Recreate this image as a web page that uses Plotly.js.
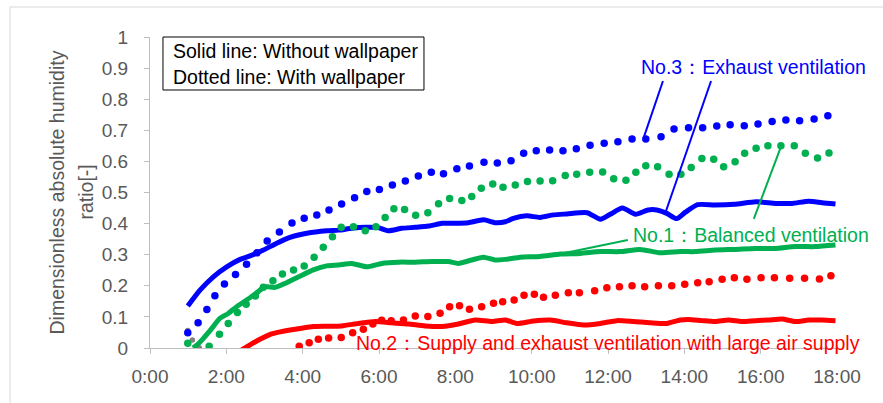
<!DOCTYPE html>
<html>
<head>
<meta charset="utf-8">
<script src="https://cdn.plot.ly/plotly-3.0.1.min.js"></script>
<style>html,body{margin:0;padding:0;background:#fff;}#chart{width:883px;height:403px;}</style>
</head>
<body>
<div id="chart"></div>
<script>
// ---- Data (hours since 0:00, dimensionless ratio) ----
var xTickVals = [0, 2, 4, 6, 8, 10, 12, 14, 16, 18];
var xTickText = ["0:00", "2:00", "4:00", "6:00", "8:00", "10:00", "12:00", "14:00", "16:00", "18:00"];

// No.3 Exhaust ventilation - solid (without wallpaper)
var blueSolidX = [0.99,1.31,1.66,2.01,2.36,2.62,2.97,3.32,3.67,4.11,4.63,4.94,5.29,5.64,5.98,6.25,6.60,6.95,7.30,7.65,7.99,8.34,8.74,9.04,9.31,9.52,9.87,10.22,10.57,10.92,11.45,11.80,12.06,12.38,12.72,13.05,13.28,13.54,13.80,14.02,14.35,14.79,15.31,15.88,16.40,16.82,17.26,17.61,17.96];
var blueSolidY = [0.135,0.186,0.229,0.261,0.285,0.296,0.315,0.337,0.356,0.369,0.377,0.379,0.385,0.388,0.387,0.377,0.385,0.388,0.392,0.401,0.401,0.403,0.412,0.403,0.406,0.417,0.425,0.420,0.428,0.431,0.435,0.414,0.430,0.450,0.430,0.444,0.444,0.433,0.416,0.436,0.461,0.460,0.462,0.470,0.465,0.465,0.472,0.467,0.463];

// No.3 Exhaust ventilation - dotted (with wallpaper)
var blueDotX = [0.99,1.26,1.49,1.70,1.95,2.24,2.53,2.80,3.07,3.39,3.72,4.04,4.37,4.69,5.02,5.36,5.68,6.01,6.35,6.69,7.03,7.37,7.69,8.04,8.37,8.75,9.10,9.46,9.79,10.12,10.47,10.82,11.17,11.53,11.90,12.26,12.63,12.99,13.39,13.73,14.11,14.48,14.85,15.20,15.57,15.93,16.30,16.66,17.02,17.40,17.76];
var blueDotY = [0.049,0.081,0.124,0.168,0.206,0.236,0.269,0.306,0.344,0.373,0.402,0.417,0.428,0.444,0.463,0.483,0.503,0.510,0.524,0.537,0.553,0.565,0.560,0.576,0.585,0.597,0.595,0.602,0.626,0.634,0.637,0.634,0.641,0.652,0.658,0.663,0.672,0.672,0.679,0.704,0.708,0.708,0.714,0.718,0.715,0.720,0.728,0.733,0.731,0.736,0.747];

// No.1 Balanced ventilation - solid
var greenSolidX = [1.13,1.25,1.40,1.62,1.83,2.05,2.27,2.53,2.80,3.01,3.28,3.58,3.93,4.28,4.63,4.94,5.29,5.68,6.07,6.51,6.95,7.38,7.82,8.08,8.43,8.74,9.04,9.31,9.70,10.22,10.75,11.27,11.80,12.32,12.84,13.37,13.89,14.29,14.81,15.33,15.86,16.38,16.91,17.43,17.96];
var greenSolidY = [0.000,0.012,0.031,0.063,0.095,0.111,0.133,0.154,0.178,0.197,0.195,0.210,0.231,0.251,0.264,0.267,0.272,0.261,0.272,0.276,0.276,0.278,0.278,0.272,0.283,0.292,0.283,0.285,0.292,0.294,0.302,0.304,0.310,0.310,0.317,0.306,0.310,0.310,0.315,0.317,0.320,0.320,0.326,0.326,0.331];

// No.1 Balanced ventilation - dotted
var greenDotX = [0.99,1.55,1.82,2.05,2.29,2.52,2.76,2.97,3.22,3.47,3.76,4.04,4.30,4.54,4.78,5.01,5.33,5.64,5.92,6.16,6.39,6.67,6.96,7.28,7.56,7.85,8.17,8.43,8.68,8.98,9.25,9.57,9.89,10.22,10.55,10.88,11.18,11.52,11.86,12.15,12.47,12.73,12.99,13.30,13.60,13.91,14.18,14.46,14.77,15.03,15.33,15.58,15.88,16.19,16.53,16.88,17.17,17.49,17.79];
var greenDotY = [0.015,0.006,0.044,0.079,0.114,0.141,0.167,0.195,0.216,0.238,0.251,0.264,0.292,0.324,0.358,0.388,0.390,0.377,0.390,0.420,0.448,0.445,0.427,0.435,0.464,0.481,0.474,0.487,0.514,0.527,0.517,0.524,0.535,0.537,0.538,0.555,0.559,0.565,0.566,0.544,0.539,0.565,0.586,0.583,0.559,0.559,0.580,0.609,0.607,0.583,0.599,0.626,0.642,0.650,0.650,0.650,0.626,0.611,0.627];

// No.2 Supply and exhaust ventilation with large air supply - solid
var redSolidX = [2.40,2.62,2.88,3.15,3.41,3.67,3.93,4.28,4.67,5.02,5.46,5.90,6.33,6.77,7.21,7.65,8.08,8.52,8.96,9.31,9.61,10.05,10.49,10.92,11.36,11.80,12.23,12.67,13.11,13.54,13.89,14.11,14.46,14.81,15.16,15.51,15.86,16.21,16.56,16.91,17.26,17.61,17.96];
var redSolidY = [-0.006,0.010,0.028,0.044,0.052,0.058,0.063,0.069,0.070,0.071,0.079,0.085,0.081,0.077,0.071,0.069,0.077,0.090,0.085,0.090,0.079,0.087,0.090,0.081,0.074,0.079,0.088,0.085,0.081,0.079,0.090,0.092,0.088,0.085,0.090,0.085,0.088,0.090,0.093,0.085,0.090,0.090,0.088];

// No.2 - dotted
var redDotX = [3.91,4.17,4.41,4.68,5.01,5.31,5.59,5.84,6.07,6.32,6.64,6.95,7.28,7.60,7.85,8.11,8.37,8.69,9.00,9.24,9.54,9.80,10.07,10.31,10.62,10.96,11.25,11.65,11.97,12.30,12.63,12.96,13.32,13.67,14.01,14.35,14.65,14.99,15.31,15.64,16.01,16.36,16.76,17.15,17.54,17.84];
var redDotY = [0.006,0.017,0.028,0.032,0.034,0.049,0.060,0.077,0.089,0.088,0.090,0.103,0.101,0.112,0.133,0.136,0.125,0.133,0.144,0.149,0.154,0.170,0.173,0.163,0.170,0.178,0.178,0.184,0.194,0.197,0.200,0.197,0.200,0.200,0.205,0.210,0.213,0.221,0.226,0.221,0.226,0.226,0.224,0.224,0.222,0.232];

// faint grey series at start
var grayDotX = [0.99, 1.11, 1.29];
var grayDotY = [0.056, 0.026, 0.001];

// ---- Styles ----
var BLUE = "#0000FF", GREEN = "#00B050", RED = "#FF0000", GRAY = "#808080";
var FONT = "Liberation Sans, Arial, sans-serif";
var TICKC = "#595959";

function solid(x, y, c) {
  return {x: x, y: y, type: "scatter", mode: "lines",
          line: {color: c, width: 5, shape: "spline", smoothing: 0.6}, hoverinfo: "skip"};
}
function dots(x, y, c, s) {
  return {x: x, y: y, type: "scatter", mode: "markers", marker: {color: c, size: s || 7.5, line: {width: 0}}, hoverinfo: "skip"};
}

var traces = [
  dots(grayDotX, grayDotY, GRAY, 5.5),
  solid(blueSolidX, blueSolidY, BLUE),
  solid(greenSolidX, greenSolidY, GREEN),
  solid(redSolidX, redSolidY, RED),
  dots(blueDotX, blueDotY, BLUE),
  dots(greenDotX, greenDotY, GREEN),
  dots(redDotX, redDotY, RED)
];

var layout = {
  width: 883, height: 403,
  margin: {l: 150, r: 46, t: 37, b: 55, pad: 0},
  paper_bgcolor: "#fff", plot_bgcolor: "rgba(0,0,0,0)",
  showlegend: false,
  font: {family: FONT, size: 19, color: TICKC},
  xaxis: {
    range: [0, 18], tickvals: xTickVals, ticktext: xTickText,
    showline: true, linecolor: "#bfbfbf", linewidth: 1,
    ticks: "outside", ticklen: 5, tickcolor: "#bfbfbf",
    showgrid: false, zeroline: false,
    ticklabelstandoff: 6,
    tickfont: {family: FONT, size: 19, color: TICKC}
  },
  yaxis: {
    range: [0, 1], tick0: 0, dtick: 0.1,
    showline: true, linecolor: "#bfbfbf", linewidth: 1,
    ticks: "outside", ticklen: 5, tickcolor: "#bfbfbf",
    showgrid: false, zeroline: false,
    ticklabelstandoff: 12,
    tickfont: {family: FONT, size: 19, color: TICKC}
  },
  shapes: [
    // outer chart frame
    {type: "rect", xref: "paper", yref: "paper", x0: -0.2038, x1: 1.08, y0: -0.25, y1: 1.0965,
     line: {color: "#d9d9d9", width: 1}, fillcolor: "rgba(0,0,0,0)", layer: "below"},
    // note box
    {type: "rect", xref: "paper", yref: "paper", x0: 0.0189, x1: 0.3988, y0: 0.8296, y1: 1.0,
     line: {color: "#000", width: 1}, fillcolor: "#fff"},
    // leader lines
    {type: "line", xref: "x", yref: "y", x0: 13.44, y0: 0.8585, x1: 12.94, y1: 0.678, line: {color: BLUE, width: 2}},
    {type: "line", xref: "x", yref: "y", x0: 14.70, y0: 0.8585, x1: 13.52, y1: 0.4405, line: {color: BLUE, width: 2}},
    {type: "line", xref: "x", yref: "y", x0: 12.52, y0: 0.347, x1: 10.74, y1: 0.302, line: {color: GREEN, width: 2}},
    {type: "line", xref: "x", yref: "y", x0: 15.82, y0: 0.415, x1: 16.53, y1: 0.647, line: {color: GREEN, width: 2}}
  ],
  annotations: [
    {xref: "paper", yref: "paper", x: 0, y: 0.5, xshift: -94, xanchor: "center", yanchor: "middle",
     textangle: -90, showarrow: false, text: "Dimensionless absolute humidity",
     font: {family: FONT, size: 19.5, color: TICKC}},
    {xref: "paper", yref: "paper", x: 0, y: 0.5, xshift: -65, xanchor: "center", yanchor: "middle",
     textangle: -90, showarrow: false, text: "ratio[-]",
     font: {family: FONT, size: 19.5, color: TICKC}},
    {xref: "paper", yref: "paper", x: 0.0306, y: 0.955, xanchor: "left", yanchor: "middle", showarrow: false,
     text: "Solid line: Without wallpaper", font: {family: FONT, size: 19.5, color: "#000"}},
    {xref: "paper", yref: "paper", x: 0.0306, y: 0.871, xanchor: "left", yanchor: "middle", showarrow: false,
     text: "Dotted line: With wallpaper", font: {family: FONT, size: 19.5, color: "#000"}},
    {xref: "paper", yref: "paper", x: 0.7118, y: 0.9035, xanchor: "left", yanchor: "middle", showarrow: false,
     text: "No.3：Exhaust ventilation", font: {family: FONT, size: 19.5, color: BLUE}},
    {xref: "paper", yref: "paper", x: 0.7002, y: 0.3633, xanchor: "left", yanchor: "middle", showarrow: false,
     text: "No.1：Balanced ventilation", font: {family: FONT, size: 19.5, color: GREEN}},
    {xref: "paper", yref: "paper", x: 0.2969, y: 0.0161, xanchor: "left", yanchor: "middle", showarrow: false,
     text: "No.2：Supply and exhaust ventilation with large air supply", font: {family: FONT, size: 19.5, color: RED}}
  ]
};

Plotly.newPlot("chart", traces, layout, {displayModeBar: false, staticPlot: true});
</script>
</body>
</html>
